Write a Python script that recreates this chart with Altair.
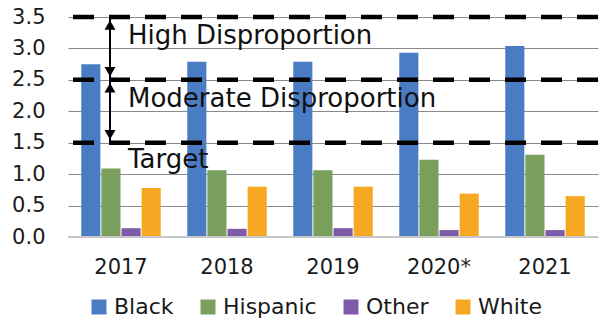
import altair as alt
import pandas as pd

years = ["2017", "2018", "2019", "2020*", "2021"]
groups = ["Black", "Hispanic", "Other", "White"]
black = [2.75, 2.79, 2.79, 2.93, 3.04]
hispanic = [1.09, 1.06, 1.06, 1.23, 1.31]
other = [0.14, 0.13, 0.14, 0.11, 0.11]
white = [0.78, 0.80, 0.80, 0.69, 0.65]
colors = ["#4A7CC4", "#7A9E5C", "#7E5BA8", "#F7A823"]

y_ticks = [0, 0.5, 1.0, 1.5, 2.0, 2.5, 3.0, 3.5]
thresholds = [1.5, 2.5, 3.5]
zone_labels = ["Target", "Moderate Disproportion", "High Disproportion"]
zone_label_y = [1.22, 2.2, 3.2]
arrow_top = [3.5, 2.5]
arrow_bottom = [2.5, 1.5]

FONT = "DejaVu Sans"

rows = []
for name, vals in zip(groups, [black, hispanic, other, white]):
    for yr, v in zip(years, vals):
        rows.append({"year": yr, "group": name, "value": v})
bars_df = pd.DataFrame(rows)

y_scale = alt.Scale(domain=[0, 3.5], nice=False, zero=True)
y_axis = alt.Axis(values=y_ticks, format=".1f", labelOverlap=False,
                  labelFontSize=21, labelColor="#1a1a1a", labelFont=FONT,
                  labelPadding=23, ticks=False, domain=False,
                  gridColor="#8a8a8a", gridWidth=1.2)


def yq(field):
    # every layer shares the same value axis definition
    return alt.Y(field, type="quantitative", scale=y_scale, axis=y_axis, title=None)


bars = alt.Chart(bars_df).mark_bar().encode(
    x=alt.X("year:N", sort=years, title=None,
            scale=alt.Scale(paddingInner=0.25, paddingOuter=0.125),
            axis=alt.Axis(labelAngle=0, labelFontSize=21, labelColor="#1a1a1a",
                          labelFont=FONT, labelPadding=19, ticks=False,
                          domain=False, grid=False)),
    xOffset=alt.XOffset("group:N", sort=groups,
                        scale=alt.Scale(paddingInner=0.05)),
    y=yq("value"),
    color=alt.Color("group:N", sort=groups,
                    scale=alt.Scale(domain=groups, range=colors),
                    legend=alt.Legend(title=None, orient="none", direction="horizontal",
                                      legendX=20, legendY=279, symbolType="square",
                                      symbolSize=225, symbolStrokeWidth=0,
                                      labelFontSize=22, labelFont=FONT,
                                      labelColor="#1a1a1a", columnPadding=23,
                                      symbolOffset=0, labelOffset=4)),
)

base_df = pd.DataFrame({"v": [0]})
baseline = alt.Chart(base_df).mark_rule(color="#c8c8c8", strokeWidth=2).encode(
    y=yq("v")
)

thr_df = pd.DataFrame({"v": thresholds})
dashed = alt.Chart(thr_df).mark_rule(
    color="black", strokeWidth=4.5, strokeDash=[21, 15]
).encode(y=yq("v"))

arrow_df = pd.DataFrame({"top": arrow_top, "bottom": arrow_bottom})
shafts = alt.Chart(arrow_df).mark_rule(color="black", strokeWidth=2).encode(
    x=alt.value(42),
    y=yq("top"),
    y2="bottom:Q",
)
heads_up = alt.Chart(arrow_df).mark_point(
    shape="triangle-up", filled=True, color="black", size=120, opacity=1, yOffset=8
).encode(x=alt.value(42), y=yq("top"))
heads_down = alt.Chart(arrow_df).mark_point(
    shape="triangle-down", filled=True, color="black", size=120, opacity=1, yOffset=-8
).encode(x=alt.value(42), y=yq("bottom"))

label_df = pd.DataFrame({"label": zone_labels, "y": zone_label_y})
labels = alt.Chart(label_df).mark_text(
    align="left", baseline="middle", fontSize=26, font=FONT, color="#111111"
).encode(x=alt.value(60), y=yq("y"), text="label:N")

chart = alt.layer(
    bars, baseline, dashed, shafts, heads_up, heads_down, labels
).properties(
    width=530, height=220,
    autosize=alt.AutoSizeParams(type="none"),
    padding={"left": 68, "top": 17, "right": 3, "bottom": 88},
).configure_view(stroke=None)

chart.save("out.html", embed_options={"renderer": "svg", "actions": False})
